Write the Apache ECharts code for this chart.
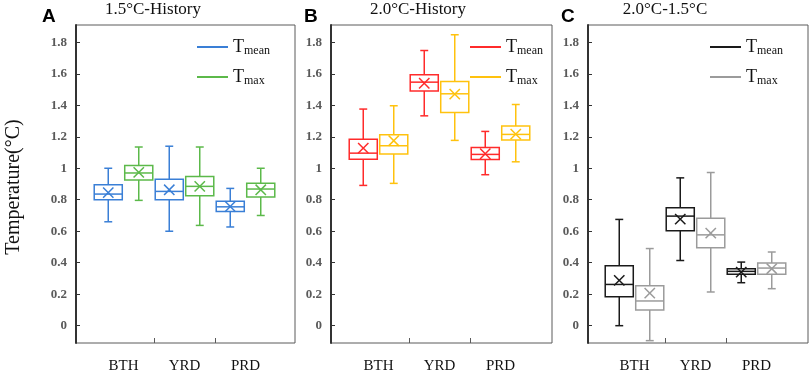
<!DOCTYPE html>
<html>
<head>
<meta charset="utf-8">
<script src="https://cdn.jsdelivr.net/npm/echarts@6/dist/echarts.min.js"></script>
<style>
  html, body { margin: 0; padding: 0; background: #fff; }
  #chart { width: 809px; height: 374px; }
</style>
</head>
<body>
<div id="chart"></div>
<script>
// categories and tick labels
const regions = ['BTH', 'YRD', 'PRD'];
const panelTitles = ['1.5°C-History', '2.0°C-History', '2.0°C-1.5°C'];
const panelLetters = ['A', 'B', 'C'];
const yTicks = [0, 0.2, 0.4, 0.6, 0.8, 1, 1.2, 1.4, 1.6, 1.8];
const xSepTicks = [1, 2]; // separators between the regions

// each row: [min, Q1, median, Q3, max, mean] for BTH, YRD, PRD
const tmean15 = [
  [0.66, 0.80, 0.836, 0.895, 1.00, 0.845],
  [0.60, 0.80, 0.853, 0.93, 1.14, 0.863],
  [0.627, 0.726, 0.755, 0.79, 0.872, 0.757]
];
const tmax15 = [
  [0.796, 0.925, 0.97, 1.018, 1.135, 0.974],
  [0.637, 0.825, 0.885, 0.948, 1.135, 0.885],
  [0.70, 0.817, 0.868, 0.904, 1.00, 0.863]
];
const tmean20 = [
  [0.891, 1.058, 1.096, 1.185, 1.376, 1.128],
  [1.333, 1.49, 1.547, 1.594, 1.748, 1.54],
  [0.959, 1.056, 1.088, 1.132, 1.234, 1.092]
];
const tmax20 = [
  [0.904, 1.09, 1.143, 1.213, 1.397, 1.175],
  [1.177, 1.354, 1.473, 1.551, 1.848, 1.471],
  [1.041, 1.179, 1.215, 1.268, 1.405, 1.217]
];
const tmeanDiff = [
  [0.0, 0.184, 0.262, 0.381, 0.675, 0.288],
  [0.414, 0.603, 0.696, 0.749, 0.939, 0.677],
  [0.273, 0.326, 0.345, 0.362, 0.404, 0.34]
];
const tmaxDiff = [
  [-0.095, 0.10, 0.157, 0.254, 0.49, 0.207],
  [0.214, 0.495, 0.577, 0.683, 0.973, 0.588],
  [0.235, 0.326, 0.366, 0.398, 0.468, 0.362]
];

const panelData = [[tmean15, tmax15], [tmean20, tmax20], [tmeanDiff, tmaxDiff]];
const panelColors = [['#3a7fd6', '#5cb94a'], ['#ff2b2b', '#ffc20e'], ['#1a1a1a', '#9b9b9b']];

// layout of the three panels (pixels)
const frameLeft = [76, 331, 588];
const frameRight = [295, 552, 808];
const dataLeft = [93, 348, 604];
const dataWidth = 183;
const legendLeft = [192, 465, 705];
const titleCenter = [153, 418, 665];
const letterLeft = [42, 304, 561];
const TOP = 25, BOTTOM = 343, W = 809, H = 374;
const Y_MIN = -0.11, Y_MAX = 1.91;

const serif = 'Liberation Serif';

// box + whisker + mean cross, drawn through the axis scales
function makeRenderItem(side, color) {
  return function (params, api) {
    const ci = api.value(0);
    const band = api.size([1, 0])[0];
    const cx = api.coord([ci, 0])[0] + side * band / 4;
    const y = k => api.coord([ci, api.value(k)])[1];
    const yMin = y(1), yQ1 = y(2), yMed = y(3), yQ3 = y(4), yMax = y(5), yMean = y(6);
    const hw = band * 0.23;
    const cw = band * 0.065;
    const xs = band * 0.085;
    const st = { stroke: color, lineWidth: 1.5, fill: null };
    const line = (x1, y1, x2, y2) => ({ type: 'line', shape: { x1, y1, x2, y2 }, style: st });
    return {
      type: 'group',
      children: [
        line(cx, yMax, cx, yQ3),
        line(cx, yQ1, cx, yMin),
        line(cx - cw, yMax, cx + cw, yMax),
        line(cx - cw, yMin, cx + cw, yMin),
        { type: 'rect', shape: { x: cx - hw, y: yQ3, width: hw * 2, height: yQ1 - yQ3 }, style: st },
        line(cx - hw, yMed, cx + hw, yMed),
        line(cx - xs, yMean - xs, cx + xs, yMean + xs),
        line(cx - xs, yMean + xs, cx + xs, yMean - xs)
      ]
    };
  };
}

const grid = [], xAxis = [], yAxis = [], series = [], legend = [], title = [];

panelData.forEach((pair, p) => {
  // frame grid with the visible y axis
  grid.push({
    left: frameLeft[p], right: W - frameRight[p], top: TOP, bottom: H - BOTTOM,
    show: true, borderColor: '#5a5a5a', borderWidth: 1, backgroundColor: 'transparent'
  });
  // data grid holding the categories
  grid.push({ left: dataLeft[p], width: dataWidth, top: TOP, bottom: H - BOTTOM });

  const gi = 2 * p + 1;
  xAxis.push({ gridIndex: 2 * p, type: 'value', show: false });
  xAxis.push({
    gridIndex: gi,
    type: 'category',
    data: regions,
    boundaryGap: true,
    axisLine: { show: false, onZero: false },
    axisTick: { show: false },
    axisLabel: { margin: 16, fontFamily: serif, fontSize: 15, color: '#111' }
  });
  // separator ticks between regions
  xAxis.push({
    gridIndex: gi,
    type: 'value',
    min: 0, max: regions.length,
    position: 'bottom',
    axisLine: { show: false, onZero: false },
    axisTick: { show: true, inside: true, length: 5, customValues: xSepTicks, lineStyle: { color: '#5a5a5a' } },
    axisLabel: { show: false },
    splitLine: { show: false }
  });

  yAxis.push({
    gridIndex: 2 * p,
    type: 'value',
    min: Y_MIN, max: Y_MAX,
    name: p === 0 ? 'Temperature(°C)' : '',
    nameLocation: 'middle',
    nameGap: 52,
    nameRotate: 90,
    nameTextStyle: { fontFamily: serif, fontSize: 20, color: '#111', padding: [0, 6, 0, 0] },
    axisLine: { show: true, lineStyle: { color: '#333', width: 2 } },
    axisTick: { show: true, inside: true, length: 4, customValues: yTicks, lineStyle: { color: '#333' } },
    axisLabel: {
      customValues: yTicks, margin: 9,
      fontFamily: serif, fontWeight: 'bold', fontSize: 13, color: '#595959'
    },
    splitLine: { show: false }
  });
  yAxis.push({ gridIndex: gi, type: 'value', min: Y_MIN, max: Y_MAX, show: false });

  const catAxisIndex = xAxis.length - 2;
  const names = ['Tmean-' + panelLetters[p], 'Tmax-' + panelLetters[p]];
  pair.forEach((rows, s) => {
    series.push({
      name: names[s],
      type: 'custom',
      xAxisIndex: catAxisIndex,
      yAxisIndex: yAxis.length - 1,
      itemStyle: { color: panelColors[p][s] },
      encode: { x: 0, y: [1, 2, 3, 4, 5, 6] },
      renderItem: makeRenderItem(s === 0 ? -1 : 1, panelColors[p][s]),
      data: rows.map((r, i) => [i].concat(r))
    });
  });

  legend.push({
    left: legendLeft[p], top: 33,
    orient: 'vertical',
    icon: 'rect', itemWidth: 31, itemHeight: 2, itemGap: 11,
    selectedMode: false,
    data: names,
    formatter: name => name.startsWith('Tmean') ? '{t|T}{s|mean}' : '{t|T}{s|max}',
    textStyle: {
      rich: {
        t: { fontFamily: serif, fontSize: 18, color: '#111', lineHeight: 20 },
        s: { fontFamily: serif, fontSize: 12, color: '#111', verticalAlign: 'bottom', lineHeight: 12 }
      }
    }
  });

  title.push({
    text: panelTitles[p], left: titleCenter[p], top: 1, textAlign: 'center', padding: 0,
    textStyle: { fontFamily: serif, fontSize: 17, fontWeight: 'normal', color: '#111' }
  });
  title.push({
    text: panelLetters[p], left: letterLeft[p], top: 7, padding: 0,
    textStyle: { fontFamily: 'Liberation Sans', fontSize: 19, fontWeight: 'bold', color: '#000' }
  });
});

const chart = echarts.init(document.getElementById('chart'), null, { renderer: 'canvas' });
chart.setOption({
  animation: false,
  backgroundColor: '#fff',
  title, legend, grid, xAxis, yAxis, series
});
</script>
</body>
</html>
